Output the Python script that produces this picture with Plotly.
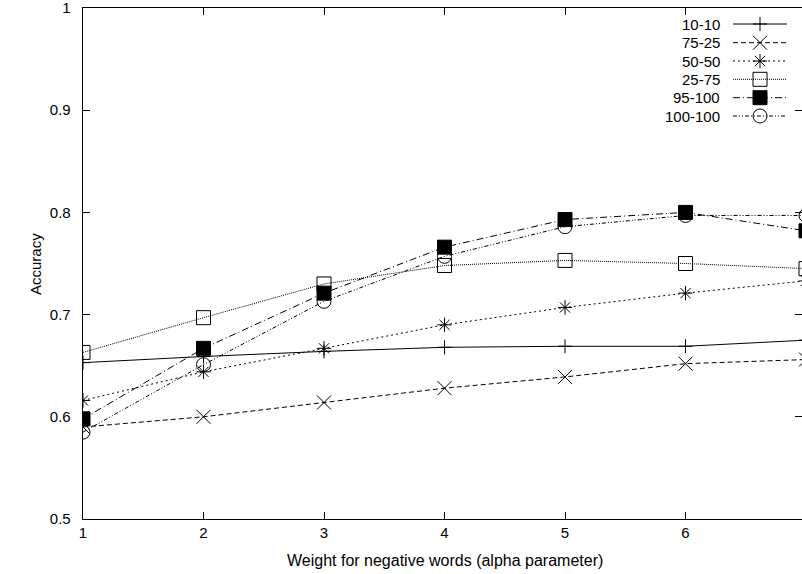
import plotly.graph_objects as go

# ---- data ----
alpha = [1, 2, 3, 4, 5, 6, 7]
names = ["10-10", "75-25", "50-50", "25-75", "95-100", "100-100"]
acc_10_10 = [0.653, 0.659, 0.664, 0.668, 0.669, 0.669, 0.675]
acc_75_25 = [0.590, 0.600, 0.614, 0.628, 0.639, 0.652, 0.656]
acc_50_50 = [0.616, 0.644, 0.667, 0.690, 0.707, 0.721, 0.733]
acc_25_75 = [0.663, 0.697, 0.730, 0.748, 0.753, 0.750, 0.745]
acc_95_100 = [0.598, 0.667, 0.721, 0.766, 0.793, 0.800, 0.782]
acc_100_100 = [0.585, 0.651, 0.713, 0.757, 0.786, 0.797, 0.797]
series = [acc_10_10, acc_75_25, acc_50_50, acc_25_75, acc_95_100, acc_100_100]

y_ticks = [0.5, 0.6, 0.7, 0.8, 0.9, 1.0]
y_tick_labels = ["0.5", "0.6", "0.7", "0.8", "0.9", "1"]
x_ticks = [1, 2, 3, 4, 5, 6, 7]

# ---- styles (gnuplot-like) ----
dashes = ["solid", "5px,3px", "2px,3px", "1px,1px", "7px,3px,1px,3px", "4px,2px,1px,2px,1px,2px"]
symbols = ["cross-thin-open", "x-thin-open", "asterisk-open", "square-open", "square", "circle-open"]
sizes = [10, 14, 12, 14, 14, 14]
FONT = "Liberation Sans, Arial, sans-serif"
FS = 15

# page geometry (page body margin is removed below)
PX0, PX1 = 83, 802      # plot area left/right in pixels
PY0, PY1 = 8, 519       # plot area top/bottom in pixels
def px(x):
    return (x - PX0) / (PX1 - PX0)
def py(y):
    return (PY1 - y) / (PY1 - PY0)

fig = go.Figure()
for name, vals, d, s, sz in zip(names, series, dashes, symbols, sizes):
    fig.add_trace(go.Scatter(
        x=alpha, y=vals, mode="lines+markers", name=name,
        line=dict(color="black", width=1, dash=d),
        marker=dict(symbol=s, size=sz, color="black", line=dict(color="black", width=1)),
        showlegend=False,
    ))

# invisible trace bound to the top (mirror) axis so it is drawn
fig.add_trace(go.Scatter(x=[alpha[0]], y=[acc_10_10[0]], xaxis="x3", mode="markers",
                         marker=dict(opacity=0), showlegend=False, hoverinfo="skip"))

# ---- gnuplot-style key (text left, sample right) on a hidden overlay axis ----
key_rows = [py(v) for v in (24, 42.7, 61, 79.3, 97.7, 116)]
key_x0, key_xm, key_x1 = px(733), px(760), px(787)
for name, d, s, sz, ky in zip(names, dashes, symbols, sizes, key_rows):
    fig.add_trace(go.Scatter(
        x=[key_x0, key_x1], y=[ky, ky], mode="lines", xaxis="x2", yaxis="y2",
        line=dict(color="black", width=1, dash=d), showlegend=False, hoverinfo="skip"))
    fig.add_trace(go.Scatter(
        x=[key_xm], y=[ky], mode="markers", xaxis="x2", yaxis="y2",
        marker=dict(symbol=s, size=sz, color="black", line=dict(color="black", width=1)),
        showlegend=False, hoverinfo="skip"))
    fig.add_annotation(x=px(722), y=ky, xref="paper", yref="paper", text=name,
                       showarrow=False, xanchor="right", yanchor="middle",
                       font=dict(family=FONT, size=FS, color="black"))

# axis titles
fig.add_annotation(x=px(444.5), y=py(560), xref="paper", yref="paper",
                   text="Weight for negative words (alpha parameter)", showarrow=False,
                   xanchor="center", yanchor="middle",
                   font=dict(family=FONT, size=16, color="black"))
fig.add_annotation(x=px(35), y=py(264), xref="paper", yref="paper",
                   text="Accuracy", showarrow=False, textangle=-90,
                   xanchor="center", yanchor="middle",
                   font=dict(family=FONT, size=FS, color="black"))

x_range = [1, 1 + 719 / 120.5]
fig.update_layout(
    width=802, height=574,
    margin=dict(l=83, r=0, t=8, b=55),
    paper_bgcolor="white", plot_bgcolor="white",
    font=dict(family=FONT, size=FS, color="black"),
    xaxis=dict(range=x_range, tickvals=x_ticks, ticks="inside", ticklen=7,
               tickwidth=1, tickcolor="black", showline=True, linecolor="black",
               linewidth=1, showgrid=False, zeroline=False,
               tickfont=dict(family=FONT, size=FS, color="black")),
    xaxis3=dict(overlaying="x", side="top", anchor="y", range=x_range, tickvals=x_ticks,
                ticks="inside", ticklen=7, tickwidth=1, tickcolor="black",
                showline=True, linecolor="black", linewidth=1, showticklabels=False,
                showgrid=False, zeroline=False),
    yaxis=dict(range=[0.5, 1.0], tickvals=y_ticks,
               ticktext=[t + "\u00a0\u00a0" for t in y_tick_labels],
               ticks="inside", ticklen=7, tickwidth=1, tickcolor="black",
               showline=True, linecolor="black", linewidth=1, mirror="ticks",
               showgrid=False, zeroline=False, ticklabeloverflow="allow",
               tickfont=dict(family=FONT, size=FS, color="black")),
    xaxis2=dict(overlaying="x", range=[0, 1], visible=False),
    yaxis2=dict(overlaying="y", range=[0, 1], visible=False),
)

fig.write_html(
    "out.html",
    config={"displayModeBar": False},
    post_script="document.body.style.margin='0';document.body.style.overflow='hidden';",
)
